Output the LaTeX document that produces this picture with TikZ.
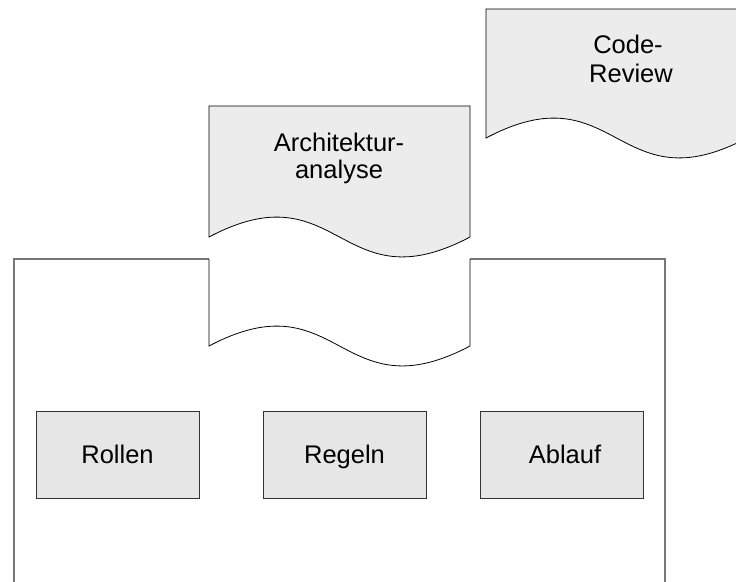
\documentclass[tikz,border=0pt]{standalone}
\usepackage{fontspec}
\setmainfont{Liberation Sans}
\definecolor{docfill}{HTML}{ECECEC}
\definecolor{boxfill}{HTML}{E6E6E6}
\definecolor{framecol}{HTML}{777777}
\definecolor{boxline}{HTML}{333333}
\begin{document}
\begin{tikzpicture}[x=1pt,y=-1pt,
  doc/.style={fill=docfill,draw=black,line width=0.8pt},
  frameline/.style={draw=framecol,line width=1.1pt},
  notchline/.style={draw=black,line width=0.8pt},
  itembox/.style={draw=boxline,fill=boxfill,line width=0.9pt,minimum width=163pt,minimum height=87pt,inner sep=0pt,text height=18.2pt,text depth=0pt,font=\fontsize{25.5}{28}\selectfont},
  doctext/.style={align=center,inner sep=0pt,font=\fontsize{25.5}{28}\selectfont}]
\useasboundingbox (0,0) rectangle (736,581);
\clip (0,0) rectangle (736,581);
% Code-Review document
\path[doc] (486,9) -- (747,9) -- (747,138)
  .. controls (616.5,207) and (616.5,69) .. (486,138) -- cycle;
\node[doctext,anchor=base] (code) at (628,53) {Code-};
\node[doctext,anchor=base] (review) at (631,82) {Review};
% Architekturanalyse document
\path[doc] (209,106) -- (470,106) -- (470,237)
  .. controls (339.5,306) and (339.5,168) .. (209,237) -- cycle;
\node[doctext,anchor=base] (arch) at (339,151) {Architektur-};
\node[doctext,anchor=base] (ana) at (339,178) {analyse};
% Frame with notch
\draw[frameline] (14,590) -- (14,259) -- (209,259);
\draw[frameline] (470,259) -- (665,259) -- (665,590);
\draw[notchline] (209,259) -- (209,346)
  .. controls (339.5,277) and (339.5,415) .. (470,346) -- (470,259);
% Boxes
\node[itembox] (rollen) at (117.5,454.5) {Rollen};
\node[itembox] (regeln) at (344.5,454.5) {Regeln};
\node[itembox] (ablauf) at (562,454.5) {\hspace{6pt}Ablauf};
\end{tikzpicture}
\end{document}
